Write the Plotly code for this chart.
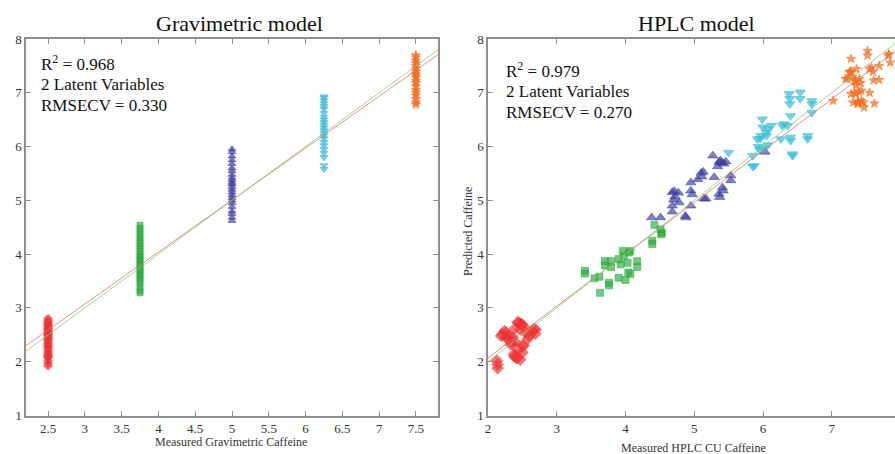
import plotly.graph_objects as go

# ---------------- data ----------------
# Left panel: Gravimetric model (measured levels x predicted values)
grav_levels = [2.5, 3.75, 5.0, 6.25, 7.5]
grav_red_y = [1.92, 1.97, 2.02, 2.08, 2.10, 2.13, 2.16, 2.20, 2.24, 2.28, 2.30, 2.33, 2.36, 2.40,
              2.42, 2.45, 2.48, 2.50, 2.52, 2.55, 2.57, 2.60, 2.62, 2.65, 2.68, 2.70, 2.73, 2.76, 2.80]
grav_green_y = [3.28, 3.32, 3.38, 3.45, 3.50, 3.55, 3.60, 3.63, 3.68, 3.72, 3.75, 3.80, 3.83, 3.88,
                3.92, 3.96, 4.00, 4.05, 4.10, 4.15, 4.20, 4.25, 4.30, 4.36, 4.42, 4.48, 4.54]
grav_blue_y = [4.62, 4.68, 4.75, 4.80, 4.88, 4.95, 5.00, 5.05, 5.10, 5.15, 5.20, 5.25, 5.30, 5.33,
               5.38, 5.42, 5.48, 5.55, 5.60, 5.68, 5.75, 5.82, 5.90, 5.95]
grav_cyan_y = [5.58, 5.65, 5.80, 5.88, 5.95, 6.02, 6.08, 6.15, 6.20, 6.25, 6.30, 6.35, 6.40, 6.45,
               6.50, 6.55, 6.62, 6.70, 6.75, 6.80, 6.85, 6.90, 6.93]
grav_orange_y = [6.78, 6.82, 6.88, 6.95, 7.00, 7.05, 7.12, 7.18, 7.22, 7.28, 7.32, 7.36, 7.40, 7.45,
                 7.50, 7.55, 7.60, 7.66, 7.70]
grav_fit = [0.966, 0.175]      # slope, intercept (red line)
grav_stats = ["R<sup>2</sup> = 0.968", "2 Latent Variables", "RMSECV = 0.330"]

# Right panel: HPLC model
hplc_red_x = [2.13, 2.14, 2.14, 2.19, 2.21, 2.24, 2.26, 2.29, 2.30, 2.33, 2.35, 2.38, 2.38, 2.38, 2.39,
              2.41, 2.43, 2.43, 2.45, 2.47, 2.47, 2.48, 2.50, 2.50, 2.50, 2.52, 2.52, 2.55, 2.58, 2.60,
              2.64, 2.67, 2.69, 2.69, 2.36, 2.27, 2.44]
hplc_red_y = [2.02, 1.95, 1.88, 2.48, 2.51, 2.57, 2.54, 2.42, 2.48, 2.32, 2.35, 2.60, 2.14, 2.10, 2.38,
              2.07, 2.73, 2.07, 2.73, 2.60, 2.04, 2.70, 2.69, 2.17, 2.30, 2.65, 2.30, 2.54, 2.43, 2.48,
              2.57, 2.60, 2.52, 2.60, 2.45, 2.44, 2.22]
hplc_green_x = [3.41, 3.41, 3.55, 3.62, 3.63, 3.70, 3.70, 3.76, 3.76, 3.79, 3.79, 3.90, 3.90, 3.93, 3.96,
                3.98, 4.00, 4.03, 4.04, 4.05, 4.07, 4.07, 4.17, 4.17, 4.39, 4.39, 4.42, 4.51, 4.52, 4.53]
hplc_green_y = [3.69, 3.64, 3.55, 3.58, 3.28, 3.87, 3.79, 3.47, 3.42, 3.76, 3.87, 3.91, 3.56, 3.81, 4.06,
                3.97, 3.52, 3.84, 3.66, 4.03, 4.06, 3.63, 3.87, 3.76, 4.25, 4.19, 4.54, 4.46, 4.37, 4.40]
hplc_blue_x = [4.38, 4.51, 4.68, 4.68, 4.68, 4.70, 4.71, 4.72, 4.77, 4.78, 4.87, 4.88, 4.95, 4.95, 4.95,
               4.97, 5.05, 5.10, 5.11, 5.13, 5.14, 5.17, 5.27, 5.29, 5.34, 5.36, 5.38, 5.40, 5.43, 5.46,
               5.36, 5.37, 5.41, 5.42, 5.53, 5.53, 6.03]
hplc_blue_y = [4.68, 4.68, 4.79, 4.90, 5.15, 5.01, 5.17, 5.07, 5.14, 4.96, 4.71, 4.68, 4.90, 5.18, 5.33,
               5.11, 5.39, 5.51, 5.44, 5.53, 5.03, 5.03, 5.83, 5.43, 5.63, 5.71, 5.74, 5.70, 5.68, 5.72,
               5.12, 5.06, 5.24, 5.18, 5.46, 5.37, 5.90]
hplc_cyan_x = [5.50, 5.85, 5.85, 5.87, 5.92, 5.93, 5.95, 5.96, 5.97, 5.99, 6.00, 6.00, 6.05, 6.05, 6.07,
               6.07, 6.12, 6.26, 6.28, 6.31, 6.36, 6.38, 6.39, 6.39, 6.40, 6.40, 6.40, 6.43, 6.43, 6.54,
               6.54, 6.65, 6.65, 6.71, 6.71, 6.71]
hplc_cyan_y = [5.89, 5.83, 5.63, 5.64, 6.14, 6.00, 5.94, 6.15, 6.20, 6.51, 6.36, 5.97, 6.20, 6.26, 6.33,
               6.03, 6.39, 6.14, 6.39, 6.42, 6.39, 6.98, 6.89, 6.79, 6.57, 6.17, 6.11, 5.86, 5.83, 7.01,
               6.89, 6.20, 6.14, 6.85, 6.79, 6.63]
hplc_orange_x = [7.02, 7.20, 7.23, 7.26, 7.27, 7.28, 7.28, 7.28, 7.30, 7.31, 7.33, 7.35, 7.35, 7.36, 7.38,
                 7.38, 7.39, 7.40, 7.40, 7.42, 7.43, 7.43, 7.46, 7.47, 7.52, 7.52, 7.55, 7.55, 7.58, 7.60,
                 7.61, 7.62, 7.69, 7.69, 7.82, 7.83, 7.85, 7.35, 7.33]
hplc_orange_y = [6.85, 7.26, 7.26, 7.39, 7.37, 7.63, 7.40, 6.98, 7.30, 6.82, 7.22, 7.21, 6.98, 7.44, 6.79,
                 6.84, 6.82, 7.26, 7.01, 7.18, 7.04, 6.85, 6.82, 6.73, 7.78, 7.69, 7.44, 7.00, 7.47, 7.39,
                 7.23, 6.80, 7.50, 7.24, 7.69, 7.72, 7.56, 7.14, 7.00]
hplc_fit = [0.963, 0.144]
hplc_stats = ["R<sup>2</sup> = 0.979", "2 Latent Variables", "RMSECV = 0.270"]

grav_xrange = [2.2, 7.8]
hplc_xrange = [2.0, 7.92]
yrange = [1, 8]

# ---------------- styles ----------------
RED = "rgba(238,50,50,0.65)"
GREEN = "rgba(40,170,60,0.65)"
BLUE = "rgba(60,60,160,0.65)"
CYAN = "rgba(60,190,215,0.7)"
ORANGE = "rgba(240,110,30,0.7)"
SERIF = "Liberation Serif, Times New Roman, serif"

fig = go.Figure()

def pts(x, y, color, symbol, size, xa, ya):
    fig.add_trace(go.Scatter(x=x, y=y, mode="markers", xaxis=xa, yaxis=ya,
                             marker=dict(color=color, symbol=symbol, size=size,
                                         line=dict(width=0.8, color=color)),
                             showlegend=False, hoverinfo="x+y"))

def lines(xr, fit, xa, ya):
    fig.add_trace(go.Scatter(x=xr, y=[fit[0] * v + fit[1] for v in xr], mode="lines",
                             xaxis=xa, yaxis=ya, line=dict(color="rgba(230,110,110,0.8)", width=1),
                             showlegend=False))
    fig.add_trace(go.Scatter(x=xr, y=xr, mode="lines", xaxis=xa, yaxis=ya,
                             line=dict(color="rgba(120,210,120,0.8)", width=1), showlegend=False))

# left panel
pts([grav_levels[0]] * len(grav_red_y), grav_red_y, RED, "diamond", 7, "x", "y")
pts([grav_levels[1]] * len(grav_green_y), grav_green_y, GREEN, "square", 6, "x", "y")
pts([grav_levels[2]] * len(grav_blue_y), grav_blue_y, BLUE, "triangle-up", 7, "x", "y")
pts([grav_levels[3]] * len(grav_cyan_y), grav_cyan_y, CYAN, "triangle-down", 7, "x", "y")
pts([grav_levels[4]] * len(grav_orange_y), grav_orange_y, ORANGE, "star", 7, "x", "y")
lines(grav_xrange, grav_fit, "x", "y")

# right panel
pts(hplc_red_x, hplc_red_y, RED, "diamond", 9, "x2", "y2")
pts(hplc_green_x, hplc_green_y, GREEN, "square", 7, "x2", "y2")
pts(hplc_blue_x, hplc_blue_y, BLUE, "triangle-up", 9, "x2", "y2")
pts(hplc_cyan_x, hplc_cyan_y, CYAN, "triangle-down", 9, "x2", "y2")
pts(hplc_orange_x, hplc_orange_y, ORANGE, "star", 7, "x2", "y2")
lines(hplc_xrange, hplc_fit, "x2", "y2")

W, H = 895, 454
ax = dict(showline=True, linecolor="#8f8f8f", linewidth=1.5, ticks="inside", ticklen=5,
          tickcolor="#8f8f8f", showgrid=False, zeroline=False, automargin=False,
          tickfont=dict(family=SERIF, size=13, color="#333333"))
ydom = [(H - 415.5) / H, (H - 39) / H]

fig.update_layout(
    width=W, height=H, margin=dict(l=0, r=0, t=0, b=0, autoexpand=False),
    paper_bgcolor="white", plot_bgcolor="white",
    xaxis=dict(**ax, domain=[26 / W, 438 / W], range=grav_xrange, tick0=2.5, dtick=0.5,
               mirror="ticks", anchor="y"),
    yaxis=dict(**ax, domain=ydom, range=yrange, dtick=1, mirror="ticks", anchor="x"),
    xaxis2=dict(**ax, domain=[488 / W, 1.0], range=hplc_xrange, tick0=2, dtick=1,
                mirror="ticks", anchor="y2"),
    yaxis2=dict(**ax, domain=ydom, range=yrange, dtick=1, mirror=False, anchor="x2"),
)

def note(text, px, py, size, color="#333", xanchor="center", angle=0):
    return dict(text=text, x=px / W, y=1 - py / H, xref="paper", yref="paper",
                xanchor=xanchor, yanchor="middle", showarrow=False, textangle=angle,
                font=dict(family=SERIF, size=size, color=color))

ann = [
    note("Gravimetric model", 239, 24, 22, "#111"),
    note("HPLC model", 696, 24, 22, "#111"),
    note("Measured Gravimetric Caffeine", 231, 442, 12),
    note("Measured HPLC CU Caffeine", 693, 448, 12),
    note("Predicted Caffeine", 468, 232, 12, angle=-90),
]
for i, t in enumerate(grav_stats):
    ann.append(note(t, 39, 63 + 21 * i, 17, "#111", xanchor="left"))
for i, t in enumerate(hplc_stats):
    ann.append(note(t, 504, 70 + 21 * i, 17, "#111", xanchor="left"))
fig.update_layout(annotations=ann)

fig.write_html("out.html", config={"displayModeBar": False},
               post_script="document.body.style.margin='0';document.body.style.padding='0';")
